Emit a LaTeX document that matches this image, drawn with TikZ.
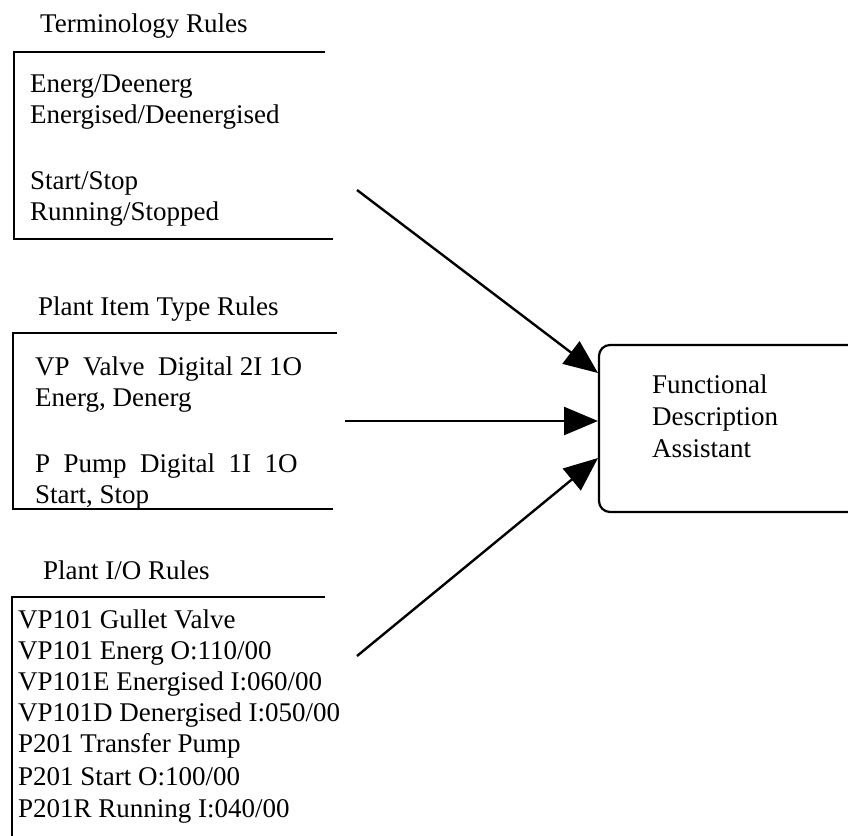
\documentclass[tikz,border=0pt]{standalone}
\usepackage{fontspec}
\setmainfont{Liberation Serif}
\usetikzlibrary{arrows.meta}
\begin{document}
\begin{tikzpicture}[x=1pt,y=-1pt,
  txt/.style={anchor=base west, inner sep=0pt, font=\fontsize{27}{31}\selectfont},
  frame/.style={line width=2.2pt, line cap=butt},
  conn/.style={line width=2.4pt, -{Triangle[length=34pt,width=28pt]}}]
\useasboundingbox (0,0) rectangle (848,835);

% --- Terminology Rules ---
\node[txt] (t1title) at (40,32) {Terminology Rules};
\draw[frame] (325,52) -| (14,239) -- (333,239);
\node[txt] (t1a) at (30,92) {Energ/Deenerg};
\node[txt] (t1b) at (30,123) {Energised/Deenergised};
\node[txt] (t1c) at (30,189) {Start/Stop};
\node[txt] (t1d) at (30,220) {Running/Stopped};

% --- Plant Item Type Rules ---
\node[txt] (t2title) at (38,315) {Plant Item Type Rules};
\draw[frame] (337,333) -| (13,509) -- (333,509);
\node[txt] (t2a) at (35,375) {VP\ \ Valve\ \ Digital 2I 1O};
\node[txt] (t2b) at (35,406) {Energ, Denerg};
\node[txt] (t2c) at (35,472) {P\ \ Pump\ \ Digital\ \ 1I\ \ 1O};
\node[txt] (t2d) at (35,503) {Start, Stop};

% --- Plant I/O Rules ---
\node[txt] (t3title) at (43,579) {Plant I/O Rules};
\draw[frame] (325,597) -| (12,840);
\node[txt] (t3a) at (18,628) {VP101 Gullet Valve};
\node[txt] (t3b) at (18,659) {VP101 Energ O:110/00};
\node[txt] (t3c) at (18,690) {VP101E Energised I:060/00};
\node[txt] (t3d) at (18,721) {VP101D Denergised I:050/00};
\node[txt] (t3e) at (18,752) {P201 Transfer Pump};
\node[txt] (t3f) at (18,785) {P201 Start O:100/00};
\node[txt] (t3g) at (18,817) {P201R Running I:040/00};

% --- Functional Description Assistant ---
\draw[frame, rounded corners=11pt] (860,345) -| (599,512) -- (860,512);
\node[txt] (fa) at (652,393) {Functional};
\node[txt] (fb) at (652,425) {Description};
\node[txt] (fc) at (652,457) {Assistant};

% --- connectors ---
\coordinate (s1) at (357,190);
\coordinate (s2) at (345,421);
\coordinate (s3) at (357,656);
\coordinate (e1) at (598,373);
\coordinate (e2) at (598,421);
\coordinate (e3) at (598,458);
\draw[conn] (s1) -- (e1);
\draw[conn] (s2) -- (e2);
\draw[conn] (s3) -- (e3);
\end{tikzpicture}
\end{document}
